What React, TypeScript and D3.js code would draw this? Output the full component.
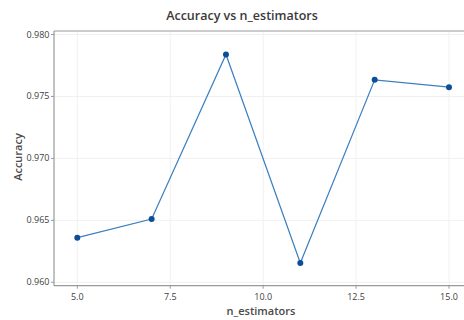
import React from "react";
import * as d3 from "d3";

const nEstimators = [5, 7, 9, 11, 13, 15];
const accuracy = [0.9636, 0.96511, 0.97839, 0.96156, 0.97634, 0.97575];
const xTicks = [5.0, 7.5, 10.0, 12.5, 15.0];
const yTicks = [0.96, 0.965, 0.97, 0.975, 0.98];

const W = 464, H = 320;
const left = 54, right = 470, top = 31, bottom = 285.7;

export default function App() {
  const x = d3.scaleLinear().domain([5, 15]).range([77.3, 449]);
  const y = d3.scaleLinear().domain([0.96, 0.98]).range([282.3, 34.5]);
  const pts = nEstimators.map((v, i) => [x(v), y(accuracy[i])] as [number, number]);
  const line = d3.line()(pts) || "";
  const font = "'Open Sans', 'Noto Sans', sans-serif";
  const textColor = "#404040";
  return (
    <svg width={W} height={H} style={{ position: "absolute", left: 0, top: 0 }} fontFamily={font}>
      <rect width={W} height={H} fill="#fff" />
      <text x={242} y={20} textAnchor="middle" fontSize={12.5} fontWeight={600} fill="#3a3a3a">
        Accuracy vs n_estimators
      </text>
      {xTicks.map((t) => (
        <line key={"gx" + t} x1={x(t)} x2={x(t)} y1={top} y2={bottom} stroke="#f0f0f0" strokeWidth={1} />
      ))}
      {yTicks.map((t) => (
        <line key={"gy" + t} x1={left} x2={right} y1={y(t)} y2={y(t)} stroke="#f0f0f0" strokeWidth={1} />
      ))}
      <line x1={left} x2={right} y1={top} y2={top} stroke="#999" strokeWidth={1.2} />
      <line x1={left} x2={left} y1={top} y2={bottom} stroke="#999" strokeWidth={1.2} />
      <line x1={left} x2={right} y1={bottom} y2={bottom} stroke="#999" strokeWidth={1.2} />
      {xTicks.map((t) => (
        <g key={"tx" + t}>
          <line x1={x(t)} x2={x(t)} y1={bottom} y2={bottom + 3} stroke="#999" />
          <text x={x(t)} y={bottom + 14} textAnchor="middle" fontSize={9} fill={textColor}>
            {t.toFixed(1)}
          </text>
        </g>
      ))}
      {yTicks.map((t) => (
        <g key={"ty" + t}>
          <line x1={left - 3} x2={left} y1={y(t)} y2={y(t)} stroke="#999" />
          <text x={left - 4.5} y={y(t) + 3} textAnchor="end" fontSize={9} fill={textColor}>
            {t.toFixed(3)}
          </text>
        </g>
      ))}
      <text x={261} y={315} textAnchor="middle" fontSize={11} fontWeight={600} fill="#4a4a4a">
        n_estimators
      </text>
      <text transform={`translate(21.5,157) rotate(-90)`} textAnchor="middle" fontSize={11} fontWeight={600} fill="#4a4a4a">
        Accuracy
      </text>
      <path d={line} fill="none" stroke="#3a7fc0" strokeWidth={1.2} />
      {pts.map((p, i) => (
        <circle key={i} cx={p[0]} cy={p[1]} r={3} fill="#0d4f96" />
      ))}
    </svg>
  );
}
